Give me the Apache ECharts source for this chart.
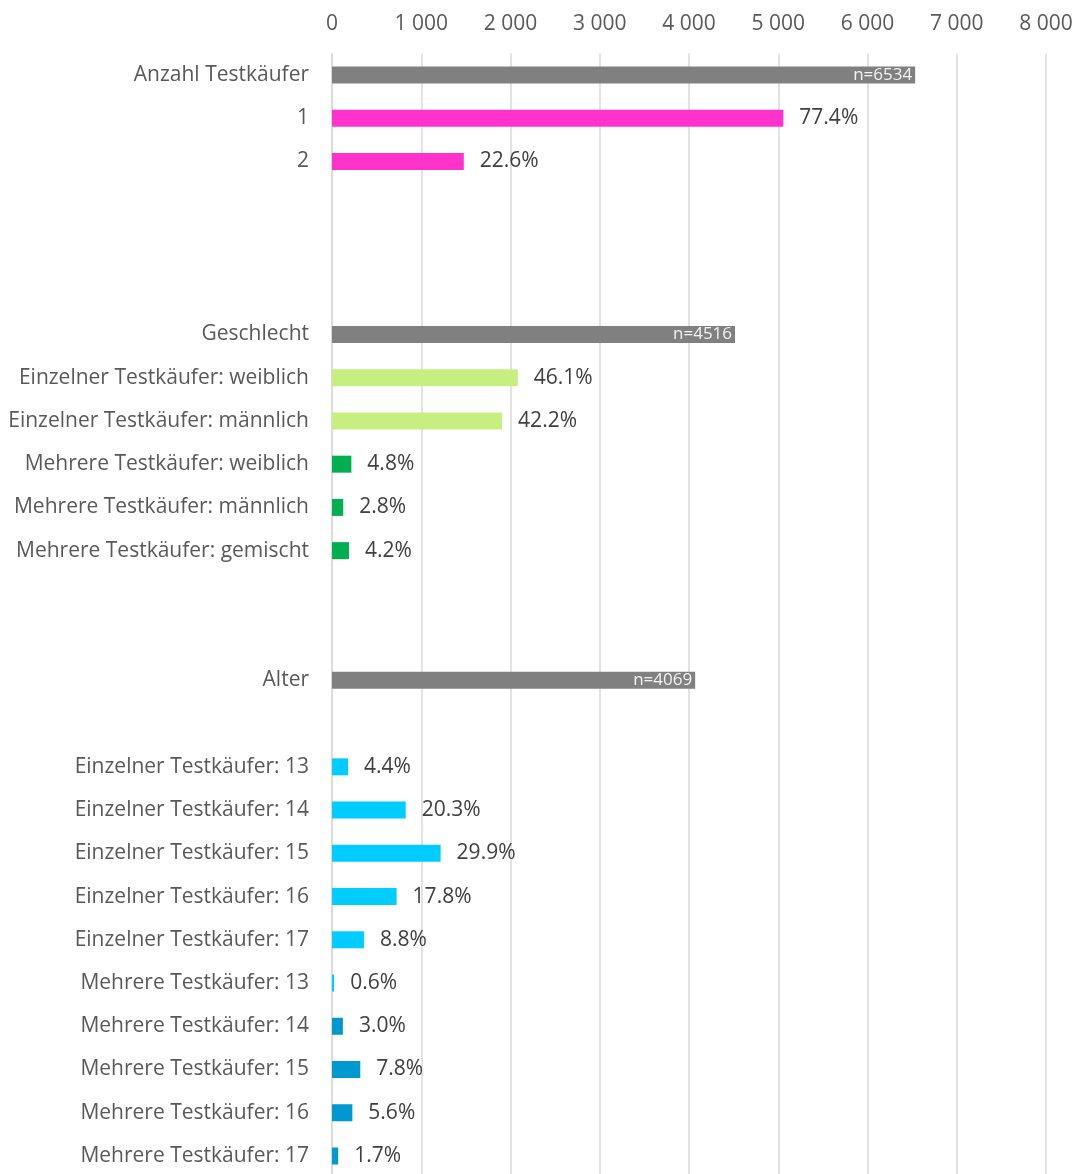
<!DOCTYPE html>
<html>
<head>
<meta charset="utf-8">
<script src="https://cdn.jsdelivr.net/npm/echarts@6/dist/echarts.min.js"></script>
<style>
  html, body { margin: 0; padding: 0; background: #fff; overflow: hidden; }
  #main { width: 1078px; height: 1180px; }
</style>
</head>
<body>
<div id="main"></div>
<script>
// Kategorien von oben nach unten ('' = Leerzeile)
var categories = [
  'Anzahl Testkäufer', '1', '2', '', '', '',
  'Geschlecht',
  'Einzelner Testkäufer: weiblich',
  'Einzelner Testkäufer: männlich',
  'Mehrere Testkäufer: weiblich',
  'Mehrere Testkäufer: männlich',
  'Mehrere Testkäufer: gemischt',
  '', '',
  'Alter', '',
  'Einzelner Testkäufer: 13',
  'Einzelner Testkäufer: 14',
  'Einzelner Testkäufer: 15',
  'Einzelner Testkäufer: 16',
  'Einzelner Testkäufer: 17',
  'Mehrere Testkäufer: 13',
  'Mehrere Testkäufer: 14',
  'Mehrere Testkäufer: 15',
  'Mehrere Testkäufer: 16',
  'Mehrere Testkäufer: 17'
];
// Anzahl (Balkenlänge)
var counts = [
  6534, 5057, 1477, null, null, null,
  4516, 2082, 1906, 217, 126, 190,
  null, null,
  4069, null,
  179, 826, 1217, 724, 358,
  24, 122, 317, 228, 69
];
// Beschriftung am Balken
var barLabels = [
  'n=6534', '77.4%', '22.6%', '', '', '',
  'n=4516', '46.1%', '42.2%', '4.8%', '2.8%', '4.2%',
  '', '',
  'n=4069', '',
  '4.4%', '20.3%', '29.9%', '17.8%', '8.8%',
  '0.6%', '3.0%', '7.8%', '5.6%', '1.7%'
];
// Gruppe je Zeile (bestimmt die Farbe)
var groups = [
  'total', 'anzahl', 'anzahl', '', '', '',
  'total', 'einzelG', 'einzelG', 'mehrG', 'mehrG', 'mehrG',
  '', '',
  'total', '',
  'einzelA', 'einzelA', 'einzelA', 'einzelA', 'einzelA',
  'einzelA', 'mehrA', 'mehrA', 'mehrA', 'mehrA'
];
var xTicks = [0, 8000, 1000]; // min, max, interval

var groupColor = {
  total: '#808080',
  anzahl: '#FF33CC',
  einzelG: '#C6EE80',
  mehrG: '#00B050',
  einzelA: '#00CCFF',
  mehrA: '#0099CF'
};

var seriesData = counts.map(function (v, i) {
  var isTotal = groups[i] === 'total';
  return {
    value: v,
    itemStyle: { color: groupColor[groups[i]] || '#808080' },
    label: isTotal ? {
      position: 'insideRight',
      distance: 3,
      color: '#F2F2F2',
      fontSize: 17,
      padding: [2, 0, 0, 0]
    } : {
      position: 'right',
      distance: 16,
      color: '#404040',
      fontSize: 21,
      padding: [4, 0, 0, 0]
    }
  };
});

var myChart = echarts.init(document.getElementById('main'));
var option = {
  animation: false,
  textStyle: { fontFamily: '"Open Sans", sans-serif' },
  grid: {
    left: 332,
    right: 32,
    top: 53.4,
    height: 1124.2,
    containLabel: false
  },
  xAxis: {
    type: 'value',
    position: 'top',
    min: xTicks[0],
    max: xTicks[1],
    interval: xTicks[2],
    axisLine: { show: false },
    axisTick: { show: false },
    axisLabel: {
      color: '#595959',
      fontSize: 21,
      margin: 19,
      formatter: function (v) {
        return String(v).replace(/\B(?=(\d{3})+(?!\d))/g, ' ');
      }
    },
    splitLine: { lineStyle: { color: '#D9D9D9', width: 1.5 } }
  },
  yAxis: {
    type: 'category',
    inverse: true,
    data: categories,
    axisLine: { show: true, lineStyle: { color: '#D9D9D9', width: 1.5 } },
    axisTick: { show: false },
    axisLabel: {
      color: '#595959',
      fontSize: 21,
      margin: 23,
      interval: 0,
      padding: [3, 0, 0, 0]
    }
  },
  series: [{
    type: 'bar',
    barWidth: 17,
    data: seriesData,
    label: {
      show: true,
      formatter: function (p) { return barLabels[p.dataIndex]; }
    }
  }]
};
myChart.setOption(option);
</script>
</body>
</html>
